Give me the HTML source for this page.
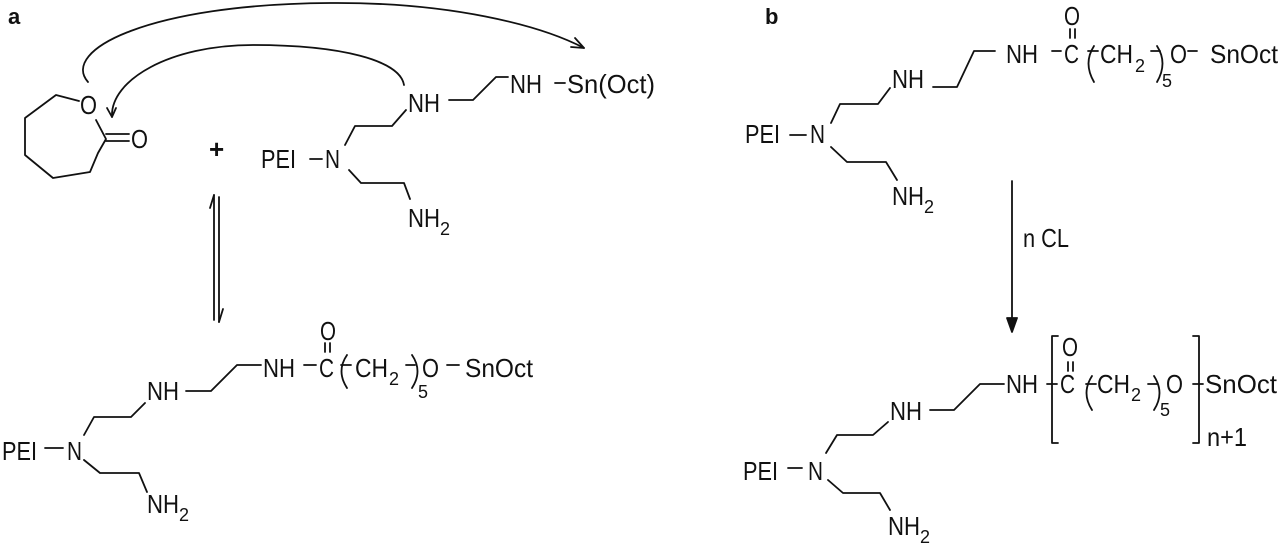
<!DOCTYPE html>
<html><head><meta charset="utf-8"><style>
html,body{margin:0;padding:0;background:#fff;}
svg{display:block;}
text{font-family:"Liberation Sans",sans-serif;fill:#111;}
.t{font-size:26px;}
.s{font-size:18px;}
.lbl{font-size:22px;font-weight:bold;}
</style></head><body>
<svg width="1280" height="556" viewBox="0 0 1280 556" xmlns="http://www.w3.org/2000/svg">
<g fill="none" stroke="#111" stroke-width="1.8" stroke-linejoin="round" stroke-linecap="round">
<polyline points="79,101 56,95 25,118 25,155 53,178 90,172 98,153 106,139 96,120"/>
<line x1="106" y1="134" x2="129" y2="134"/>
<line x1="106" y1="141" x2="129" y2="141"/>
<path d="M88,82 C60,50 150,4 330,3 C450,2 540,25 584,48"/>
<polyline points="575,38 584,48 571,47"/>
<path d="M404,85 C400,60 340,45 253,45 C170,45 110,80 112,117"/>
<polyline points="107,108 112,117 116,108"/>
<line x1="310" y1="159" x2="322" y2="159"/>
<polyline points="345,145 355,126 392,126 406,110"/>
<polyline points="449,100 473,100 496,77 508,77"/>
<line x1="555" y1="83" x2="565" y2="83"/>
<polyline points="349,170 361,183 404,183 410,199"/>
<line x1="214" y1="195" x2="214" y2="320"/>
<line x1="214" y1="195" x2="210" y2="208"/>
<line x1="219" y1="197" x2="219" y2="322"/>
<line x1="219" y1="322" x2="223" y2="309"/>
<line x1="45" y1="448" x2="63" y2="448"/>
<polyline points="84,435 94,417 131,417 145,403"/>
<polyline points="186,391 211,391 237,365 261,365"/>
<line x1="304" y1="365" x2="316" y2="365"/>
<line x1="325" y1="343" x2="325" y2="352"/>
<line x1="330" y1="343" x2="330" y2="352"/>
<path d="M347,355 Q336,371 347,388"/>
<line x1="341" y1="365" x2="351" y2="365"/>
<path d="M412,355 Q423,371 412,388"/>
<line x1="406" y1="365" x2="415" y2="365"/>
<line x1="447" y1="365" x2="459" y2="365"/>
<polyline points="84,460 100,473 139,473 147,492"/>
<line x1="790" y1="135" x2="806" y2="135"/>
<polyline points="831,123 840,104 878,104 890,88"/>
<polyline points="933,87 957,87 974,51 995,51"/>
<line x1="1052" y1="51" x2="1061" y2="51"/>
<line x1="1070" y1="29" x2="1070" y2="38"/>
<line x1="1075" y1="29" x2="1075" y2="38"/>
<path d="M1094,46 Q1083,63 1094,82"/>
<line x1="1088" y1="51" x2="1098" y2="51"/>
<path d="M1157,46 Q1168,63 1157,82"/>
<line x1="1151" y1="51" x2="1160" y2="51"/>
<line x1="1188" y1="51" x2="1197" y2="51"/>
<polyline points="831,147 847,162 886,162 897,180"/>
<line x1="1012" y1="181" x2="1012" y2="322"/>
<path d="M1007,318 L1012,332 L1017,318 Z" fill="#111"/>
<line x1="788" y1="468" x2="802" y2="468"/>
<polyline points="826,453 837,435 873,435 888,422"/>
<polyline points="930,410 954,410 980,384 1004,384"/>
<polyline points="1058,336 1052,336 1052,443 1058,443"/>
<line x1="1047" y1="384" x2="1057" y2="384"/>
<line x1="1068" y1="362" x2="1068" y2="371"/>
<line x1="1073" y1="362" x2="1073" y2="371"/>
<path d="M1092,376 Q1081,393 1092,410"/>
<line x1="1086" y1="384" x2="1096" y2="384"/>
<path d="M1154,376 Q1165,393 1154,410"/>
<line x1="1148" y1="384" x2="1157" y2="384"/>
<polyline points="1193,336 1199,336 1199,443 1193,443"/>
<line x1="1193" y1="384" x2="1203" y2="384"/>
<polyline points="828,480 843,493 880,493 890,510"/>
</g>

<text class="lbl" x="8" y="24">a</text>
<text class="lbl" x="765" y="24">b</text>

<text class="t" x="80" y="114" textLength="17" lengthAdjust="spacingAndGlyphs">O</text>
<text class="t" x="131" y="148" textLength="17" lengthAdjust="spacingAndGlyphs">O</text>
<text class="t" x="209" y="158" font-weight="bold">+</text>
<text class="t" x="261" y="168" textLength="35" lengthAdjust="spacingAndGlyphs">PEI</text>
<text class="t" x="325" y="168" textLength="15" lengthAdjust="spacingAndGlyphs">N</text>
<text class="t" x="408" y="112" textLength="32" lengthAdjust="spacingAndGlyphs">NH</text>
<text class="t" x="510" y="93" textLength="32" lengthAdjust="spacingAndGlyphs">NH</text>
<text class="t" x="567" y="93" textLength="88" lengthAdjust="spacingAndGlyphs">Sn(Oct)</text>
<text class="t" x="408" y="227" textLength="32" lengthAdjust="spacingAndGlyphs">NH</text>
<text class="s" x="440" y="235">2</text>
<text class="t" x="2" y="460" textLength="35" lengthAdjust="spacingAndGlyphs">PEI</text>
<text class="t" x="67" y="460" textLength="15" lengthAdjust="spacingAndGlyphs">N</text>
<text class="t" x="147" y="400" textLength="32" lengthAdjust="spacingAndGlyphs">NH</text>
<text class="t" x="263" y="377" textLength="32" lengthAdjust="spacingAndGlyphs">NH</text>
<text class="t" x="319" y="377" textLength="15" lengthAdjust="spacingAndGlyphs">C</text>
<text class="t" x="320" y="340" textLength="16" lengthAdjust="spacingAndGlyphs">O</text>
<text class="t" x="355" y="377" textLength="33" lengthAdjust="spacingAndGlyphs">CH</text>
<text class="s" x="389" y="385">2</text>
<text class="s" x="418" y="398">5</text>
<text class="t" x="422" y="377" textLength="17" lengthAdjust="spacingAndGlyphs">O</text>
<text class="t" x="465" y="377" textLength="68" lengthAdjust="spacingAndGlyphs">SnOct</text>
<text class="t" x="147" y="513" textLength="32" lengthAdjust="spacingAndGlyphs">NH</text>
<text class="s" x="179" y="521">2</text>
<text class="t" x="745" y="143" textLength="35" lengthAdjust="spacingAndGlyphs">PEI</text>
<text class="t" x="810" y="143" textLength="15" lengthAdjust="spacingAndGlyphs">N</text>
<text class="t" x="892" y="88" textLength="32" lengthAdjust="spacingAndGlyphs">NH</text>
<text class="t" x="1006" y="63" textLength="32" lengthAdjust="spacingAndGlyphs">NH</text>
<text class="t" x="1064" y="63" textLength="15" lengthAdjust="spacingAndGlyphs">C</text>
<text class="t" x="1064" y="25" textLength="16" lengthAdjust="spacingAndGlyphs">O</text>
<text class="t" x="1100" y="63" textLength="33" lengthAdjust="spacingAndGlyphs">CH</text>
<text class="s" x="1135" y="72">2</text>
<text class="s" x="1162" y="87">5</text>
<text class="t" x="1170" y="63" textLength="17" lengthAdjust="spacingAndGlyphs">O</text>
<text class="t" x="1210" y="63" textLength="68" lengthAdjust="spacingAndGlyphs">SnOct</text>
<text class="t" x="892" y="205" textLength="32" lengthAdjust="spacingAndGlyphs">NH</text>
<text class="s" x="924" y="213">2</text>
<text class="t" x="1023" y="247" textLength="46" lengthAdjust="spacingAndGlyphs">n CL</text>
<text class="t" x="743" y="480" textLength="35" lengthAdjust="spacingAndGlyphs">PEI</text>
<text class="t" x="808" y="480" textLength="15" lengthAdjust="spacingAndGlyphs">N</text>
<text class="t" x="890" y="420" textLength="32" lengthAdjust="spacingAndGlyphs">NH</text>
<text class="t" x="1006" y="393" textLength="32" lengthAdjust="spacingAndGlyphs">NH</text>
<text class="t" x="1060" y="393" textLength="15" lengthAdjust="spacingAndGlyphs">C</text>
<text class="t" x="1062" y="356" textLength="16" lengthAdjust="spacingAndGlyphs">O</text>
<text class="t" x="1097" y="393" textLength="33" lengthAdjust="spacingAndGlyphs">CH</text>
<text class="s" x="1131" y="401">2</text>
<text class="s" x="1160" y="416">5</text>
<text class="t" x="1166" y="393" textLength="17" lengthAdjust="spacingAndGlyphs">O</text>
<text class="t" x="1205" y="393" textLength="72" lengthAdjust="spacingAndGlyphs">SnOct</text>
<text class="t" x="1207" y="446" textLength="40" lengthAdjust="spacingAndGlyphs">n+1</text>
<text class="t" x="888" y="535" textLength="32" lengthAdjust="spacingAndGlyphs">NH</text>
<text class="s" x="920" y="543">2</text>
</svg>
</body></html>
